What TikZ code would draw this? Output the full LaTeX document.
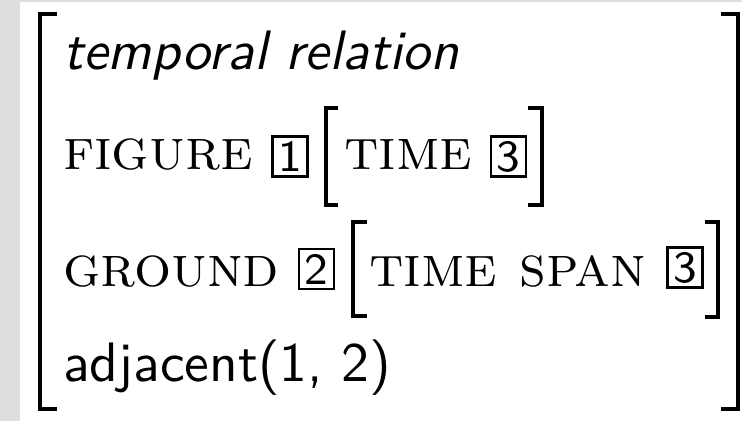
\documentclass[tikz,border=0pt]{standalone}
\usepackage{tikz}

\tikzset{
  avmtxt/.style={anchor=base west,inner sep=0pt},
  attr/.style={avmtxt,font=\fontsize{10.5}{12}\selectfont\scshape},
  tagbox/.style={draw,line width=0.4pt,inner sep=0pt,minimum width=6.3pt,minimum height=7.2pt,font=\footnotesize\sffamily},
  brak/.style={line width=0.65pt}
}

\begin{document}
\begin{tikzpicture}[x=0.18pt,y=-0.18pt]
% page
\fill[black!13] (0,0) rectangle (742,421);
\fill[white] (20,2) rectangle (742,421);
% outer brackets
\draw[brak] (57,14)--(40,14)--(40,409)--(57,409);
\draw[brak] (721,14)--(738,14)--(738,409)--(721,409);
% rows
\node[avmtxt] (rel) at (62,70) {\sffamily\itshape temporal relation};
\node[attr] (fig) at (62,170) {figure};
\node[tagbox] (tagA) at (290,156.5) {1};
\draw[brak] (338,108)--(326,108)--(326,205)--(338,205);
\node[attr] (time) at (343,170) {time};
\node[tagbox] (tagC) at (508.5,156.5) {3};
\draw[brak] (528,108)--(542,108)--(542,205)--(528,205);
\node[attr] (gnd) at (62,287) {ground};
\node[tagbox] (tagB) at (316.5,269) {2};
\draw[brak] (367,222)--(353,222)--(353,316)--(367,316);
\node[attr] (span) at (368,287) {time span};
\node[tagbox] (tagD) at (685,267.5) {3};
\draw[brak] (705,222)--(718,222)--(718,317)--(705,317);
\node[avmtxt] (adj) at (62,382) {\sffamily adjacent(1, 2)};
\end{tikzpicture}
\end{document}
